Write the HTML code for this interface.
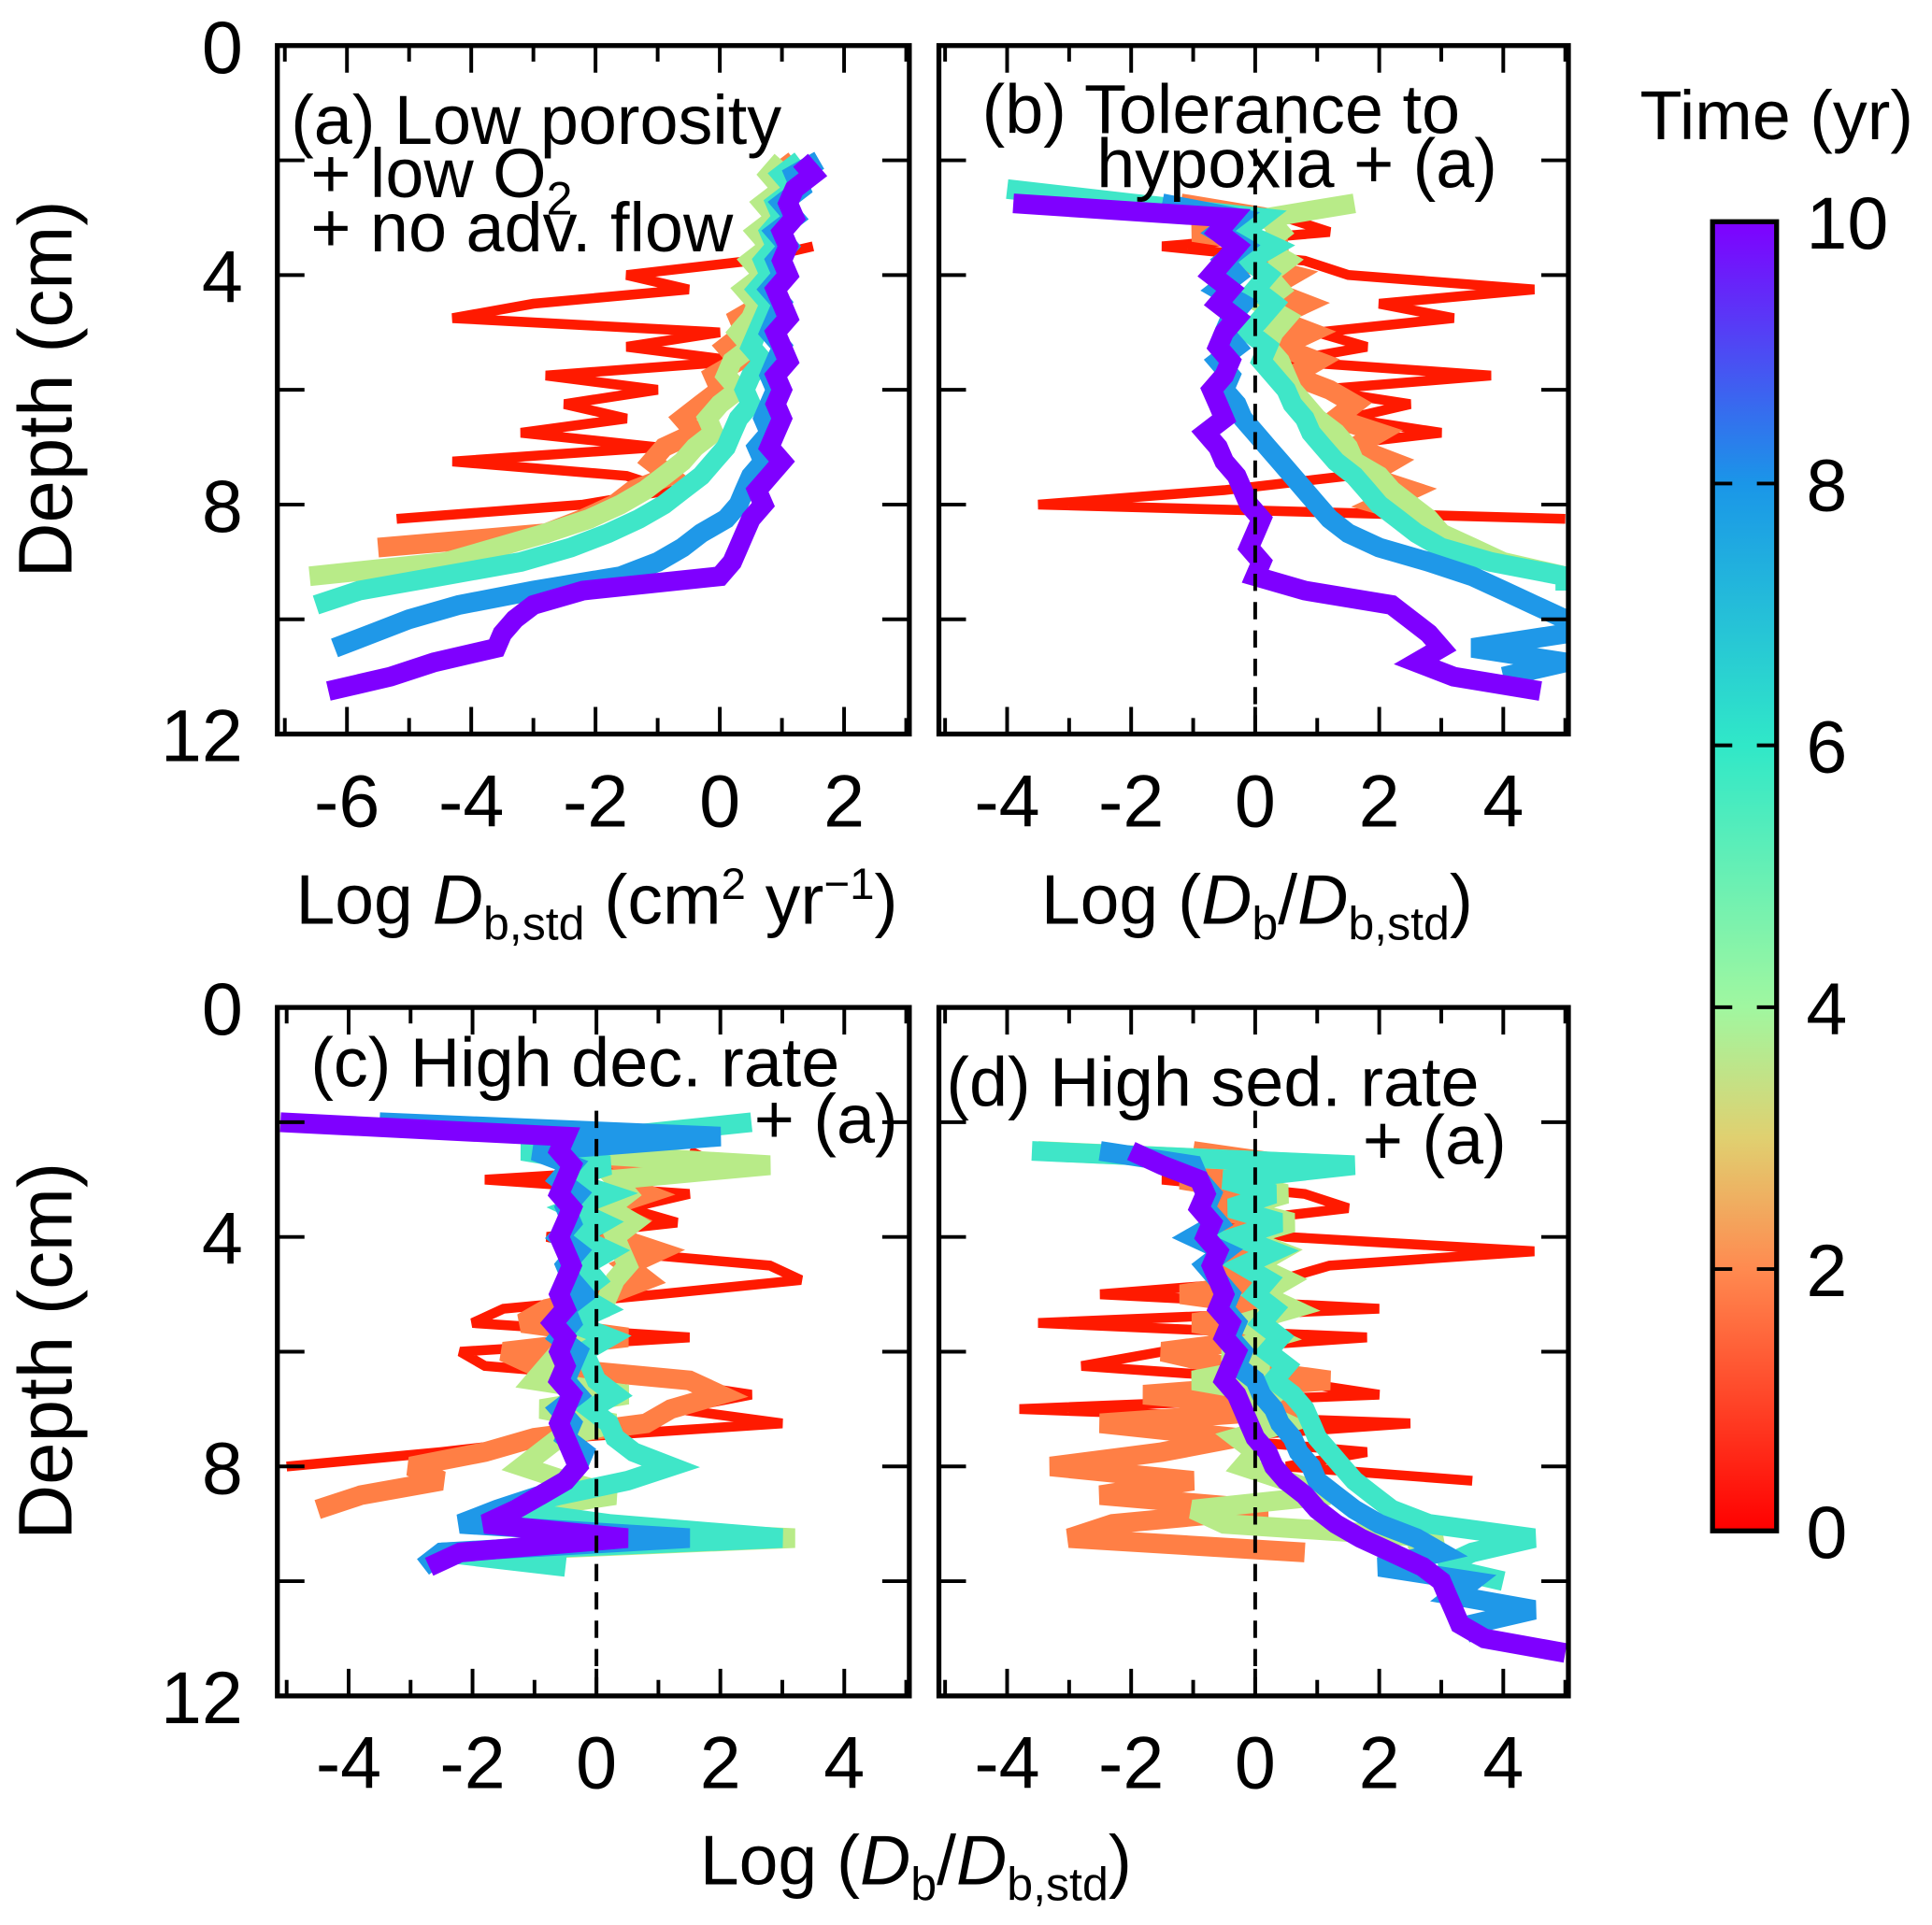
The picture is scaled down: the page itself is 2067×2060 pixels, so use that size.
<!DOCTYPE html>
<html><head><meta charset="utf-8"><style>
html,body{margin:0;padding:0;background:#fff}
svg{display:block}
text{font-family:"Liberation Sans",Arial,sans-serif;fill:#000}
</style></head><body>
<svg id="fig" width="2067" height="2060" viewBox="0 0 1568 1563" xmlns="http://www.w3.org/2000/svg">
<defs>
<linearGradient id="cbg" x1="0" y1="0" x2="0" y2="1">
<stop offset="0" stop-color="#7f00ff"/><stop offset="0.2" stop-color="#1a96e8"/><stop offset="0.4" stop-color="#30e8c8"/>
<stop offset="0.6" stop-color="#a0f7a0"/><stop offset="0.7" stop-color="#e0d070"/><stop offset="0.8" stop-color="#ff8a50"/><stop offset="1" stop-color="#ff0000"/>
</linearGradient>
</defs>
<g id="plots"></g>
<g>
<rect x="1390" y="180" width="52" height="1063" fill="url(#cbg)" stroke="#000" stroke-width="4"/>
<text x="1442" y="113" font-size="56" text-anchor="middle">Time (yr)</text>
</g>
<g id="cbticks"></g>
<g font-size="56">
<text x="236" y="117">(a) Low porosity</text>
<text x="252" y="160">+ low O<tspan font-size="38" dy="14">2</tspan></text>
<text x="252" y="204">+ no adv. flow</text>
<text x="797" y="108">(b) Tolerance to</text>
<text x="890" y="152">hypoxia + (a)</text>
<text x="252" y="882">(c) High dec. rate</text>
<text x="612" y="928">+ (a)</text>
<text x="768" y="898">(d) High sed. rate</text>
<text x="1106" y="945">+ (a)</text>
</g>
<g font-size="57">
<text transform="translate(58,316) rotate(-90)" text-anchor="middle" font-size="62">Depth (cm)</text>
<text transform="translate(58,1097) rotate(-90)" text-anchor="middle" font-size="62">Depth (cm)</text>
<text x="240" y="750">Log <tspan font-style="italic">D</tspan><tspan font-size="38" dy="13">b,std</tspan><tspan dy="-13"> (cm</tspan><tspan font-size="36" dy="-20">2</tspan><tspan dy="20"> yr</tspan><tspan font-size="36" dy="-20">−1</tspan><tspan dy="20">)</tspan></text>
<text x="845" y="750">Log (<tspan font-style="italic">D</tspan><tspan font-size="38" dy="13">b</tspan><tspan dy="-13">/</tspan><tspan font-style="italic">D</tspan><tspan font-size="38" dy="13">b,std</tspan><tspan dy="-13">)</tspan></text>
<text x="568" y="1530">Log (<tspan font-style="italic">D</tspan><tspan font-size="38" dy="13">b</tspan><tspan dy="-13">/</tspan><tspan font-style="italic">D</tspan><tspan font-size="38" dy="13">b,std</tspan><tspan dy="-13">)</tspan></text>
</g>
</svg>
<script>
const depths=[2.0,2.25,2.5,2.75,3.0,3.25,3.5,3.75,4.0,4.25,4.5,4.75,5.0,5.25,5.5,5.75,6.0,6.25,6.5,6.75,7.0,7.25,7.5,7.75,8.0,8.25,8.5,8.75,9.0,9.25,9.5,9.75,10.0,10.25,10.5,10.75,11.0,11.25];
const times=[0,2,4,6,8,10];
const colors=["#ff1a00","#ff7f45","#b8eb88","#3fe6c8","#1f98e8","#7f00ff"];
const N=null;
const seriesA=[
[N,N,N,N,N,N,1.5,0.5,-1.5,-0.5,-3.0,-4.3,0.0,-1.5,0.3,-2.8,-1.0,-2.5,-1.5,-3.2,-1.0,-4.3,-1.5,-0.8,-2.2,-5.2,N,N,N,N,N,N,N,N,N,N,N,N],
[1.2,0.9,1.1,0.8,1.0,0.7,0.9,0.6,0.8,0.5,0.7,0.3,0.4,0.1,0.3,-0.1,0.0,-0.3,-0.6,-0.4,-0.9,-1.1,-0.8,-1.4,-1.7,-2.2,-2.8,-5.5,N,N,N,N,N,N,N,N,N,N],
[1.0,0.8,1.0,0.7,0.9,0.6,0.8,0.5,0.7,0.4,0.6,0.5,0.3,0.5,0.2,0.1,0.3,0.0,-0.2,-0.1,-0.4,-0.6,-0.9,-1.2,-1.6,-2.1,-2.8,-3.6,-4.4,-6.6,N,N,N,N,N,N,N,N],
[1.3,1.0,1.2,0.9,1.0,0.8,0.9,0.7,0.8,0.6,0.8,0.7,0.6,0.5,0.7,0.5,0.4,0.5,0.3,0.2,0.1,-0.1,-0.3,-0.6,-0.9,-1.3,-1.8,-2.4,-3.2,-4.5,-5.8,-6.5,N,N,N,N,N,N],
[1.6,1.2,1.3,1.0,1.2,0.9,1.1,0.9,1.0,0.8,1.0,0.9,0.8,1.0,0.9,0.8,0.9,0.8,0.7,0.8,0.6,0.7,0.5,0.4,0.3,0.1,-0.3,-0.6,-1.0,-1.6,-3.0,-4.2,-5.0,-5.6,-6.2,N,N,N],
[1.3,1.5,1.2,1.1,1.2,1.0,1.1,1.0,1.1,0.9,1.0,1.1,0.9,1.0,1.1,0.9,1.0,0.9,1.0,0.9,0.8,1.0,0.8,0.6,0.7,0.5,0.4,0.3,0.2,0.0,-2.2,-3.0,-3.3,-3.5,-3.6,-4.6,-5.3,-6.3]];
const seriesB=[
[N,N,N,1.5,0.5,1.2,-1.5,0.8,1.5,4.5,2.0,3.2,1.0,1.8,0.5,3.8,1.0,2.5,1.5,3.0,1.0,2.0,1.5,-0.5,-3.5,5.0,N,N,N,N,N,N,N,N,N,N,N,N],
[N,N,N,-1.2,0.2,-1.0,0.5,-0.3,0.6,0.2,0.8,0.3,0.9,0.4,1.0,0.6,1.2,1.6,1.3,2.0,1.6,2.2,1.8,2.5,2.0,2.8,3.0,3.4,2.8,N,N,N,N,N,N,N,N,N],
[N,N,N,1.6,0.2,0.4,0.1,0.5,0.2,0.4,0.1,0.5,0.3,0.2,0.4,0.5,0.6,0.8,1.0,1.3,1.5,1.6,2.0,2.2,2.5,2.8,3.0,3.5,4.0,5.0,N,N,N,N,N,N,N,N],
[N,N,-4.0,-2.0,0.1,-0.2,0.3,-0.1,0.2,0.0,0.3,0.1,-0.1,0.2,0.1,0.3,0.5,0.6,0.8,0.9,1.1,1.3,1.6,1.8,2.0,2.3,2.6,3.0,3.8,5.0,5.0,N,N,N,N,N,N,N],
[N,N,N,-1.5,-0.3,-0.6,-0.2,-0.5,-0.3,-0.6,-0.2,-0.4,-0.5,-0.3,-0.6,-0.4,-0.5,-0.3,-0.2,0.0,0.2,0.4,0.6,0.8,1.0,1.2,1.5,2.0,2.8,3.5,4.0,4.5,5.0,5.0,3.5,5.0,4.0,N],
[N,N,N,-3.9,-0.4,-0.6,-0.3,-0.5,-0.7,-0.4,-0.6,-0.3,-0.5,-0.6,-0.4,-0.5,-0.7,-0.6,-0.5,-0.8,-0.6,-0.5,-0.3,-0.2,-0.1,0.1,0.0,-0.1,0.1,0.0,0.8,2.2,2.5,2.8,3.0,2.6,3.2,4.6]];
const seriesC=[
[N,N,1.5,2.0,-1.8,1.5,0.5,1.3,-0.8,0.2,2.8,3.3,1.0,-1.5,-2.0,1.5,-2.2,-1.8,1.0,2.5,1.3,3.0,-0.5,-2.5,-5.0,N,N,N,N,N,N,N,N,N,N,N,N,N],
[N,0.6,-0.8,1.2,0.2,0.8,0.1,0.6,0.3,1.0,0.5,0.8,0.2,-0.8,-1.2,0.5,-1.5,-1.0,1.5,2.0,1.2,0.8,-1.0,-1.8,-3.0,-2.5,-3.8,-4.5,N,N,N,N,N,N,N,N,N,N],
[N,0.8,-1.0,2.8,0.3,0.5,0.2,0.6,0.3,0.4,0.5,0.3,0.2,0.1,-0.5,-0.3,-0.6,-0.8,-1.0,0.5,-0.9,0.3,-0.6,-0.9,-1.2,-0.5,0.3,-1.2,-1.8,3.2,-2.2,N,N,N,N,N,N,N],
[2.5,0.3,-1.2,0.2,-0.5,0.2,-0.4,0.1,-0.3,0.2,-0.2,0.0,-0.3,0.1,-0.4,0.2,-0.2,-0.1,0.0,0.3,-0.1,0.2,0.3,0.6,1.2,0.5,-0.6,-1.5,0.2,3.0,-2.5,-0.5,N,N,N,N,N,N],
[-3.5,2.0,-1.0,-0.4,-0.6,-0.3,-0.5,-0.4,-0.6,-0.3,-0.5,-0.4,-0.2,-0.5,-0.4,-0.6,-0.3,-0.4,-0.5,-0.3,-0.6,-0.4,-0.5,-0.2,-0.3,-0.5,-0.9,-1.6,-2.2,1.5,-2.5,-2.8,N,N,N,N,N,N],
[-5.1,-0.5,-0.6,-0.4,-0.5,-0.6,-0.4,-0.5,-0.6,-0.5,-0.4,-0.5,-0.6,-0.5,-0.7,-0.5,-0.6,-0.5,-0.6,-0.4,-0.5,-0.6,-0.5,-0.4,-0.3,-0.5,-0.9,-1.3,-1.8,0.5,-2.2,-2.7,N,N,N,N,N,N]];
const seriesD=[
[N,N,N,1.2,-1.5,0.8,1.5,-0.5,0.5,4.5,1.2,0.4,-2.5,2.0,-3.5,1.8,-1.5,-2.8,0.5,2.0,-3.8,2.5,-0.8,1.8,0.5,3.5,N,N,N,N,N,N,N,N,N,N,N,N],
[N,N,-1.0,0.6,-1.2,0.2,-0.8,0.4,-0.5,0.3,-0.6,0.4,-1.2,0.5,-1.0,0.3,-1.5,-0.5,1.2,-1.8,0.8,-2.5,-0.3,-1.5,-3.3,-1.0,-2.5,0.2,-2.3,-3.0,0.8,N,N,N,N,N,N,N],
[N,N,-3.5,1.5,-0.5,0.5,-0.3,0.6,-0.2,0.4,0.0,0.5,0.1,0.6,-0.2,0.3,-0.5,0.2,-1.0,0.3,0.0,0.5,-0.3,0.0,-0.2,0.5,1.2,-1.0,-0.5,3.0,2.5,N,N,N,N,N,N,N],
[N,N,-3.6,1.6,-0.5,0.3,-0.4,0.4,-0.3,0.3,-0.2,0.2,0.0,0.3,0.1,0.4,0.2,0.5,0.3,0.6,0.8,0.9,1.0,1.2,1.4,1.6,1.9,2.2,2.8,4.5,3.5,3.0,4.0,N,N,N,N,N],
[N,N,-2.5,-1.0,-0.9,-0.7,-0.8,-0.6,-1.0,-0.5,-0.8,-0.6,-0.4,-0.5,-0.3,-0.4,-0.2,-0.3,0.0,0.1,0.3,0.4,0.6,0.7,0.9,1.0,1.3,1.6,2.0,2.6,3.0,2.0,3.5,3.2,4.5,3.5,3.6,N],
[N,N,-2.0,-1.5,-0.9,-0.8,-0.9,-0.7,-0.8,-0.6,-0.7,-0.6,-0.5,-0.6,-0.4,-0.5,-0.3,-0.4,-0.5,-0.3,-0.2,-0.1,0.0,0.2,0.3,0.5,0.8,1.0,1.3,1.7,2.2,2.7,3.0,3.1,3.2,3.3,3.7,5.0]];
const yTicks=[0,4,8,12];
const xTicksA=[-6,-4,-2,0,2];
const xTicksB=[-4,-2,0,2,4];
const cbTicks=[0,2,4,6,8,10];

const NS="http://www.w3.org/2000/svg";
const root=document.getElementById('plots');
function mk(tag,attrs,parent){const e=document.createElementNS(NS,tag);for(const k in attrs)e.setAttribute(k,attrs[k]);(parent||root).appendChild(e);return e;}
const panels=[
{id:'a',x0:225,x1:738,y0:37,y1:596,dom:[-7.12,3.05],ticks:xTicksA,data:seriesA,dash:false,ylab:true},
{id:'b',x0:762,x1:1273,y0:37,y1:596,dom:[-5.1,5.05],ticks:xTicksB,data:seriesB,dash:true,ylab:false},
{id:'c',x0:225,x1:738,y0:818,y1:1377,dom:[-5.15,5.05],ticks:xTicksB,data:seriesC,dash:true,ylab:true},
{id:'d',x0:762,x1:1273,y0:818,y1:1377,dom:[-5.1,5.05],ticks:xTicksB,data:seriesD,dash:true,ylab:false}];
panels.forEach(p=>{
  const g=mk('g',{});
  
  
  const sx=v=>p.x0+(v-p.dom[0])/(p.dom[1]-p.dom[0])*(p.x1-p.x0);
  const sy=d=>p.y0+d/12*(p.y1-p.y0);
  const clip=mk('clipPath',{id:'clip'+p.id},g);
  mk('rect',{x:p.x0,y:p.y0,width:p.x1-p.x0,height:p.y1-p.y0},clip);
  const lines=mk('g',{'clip-path':'url(#clip'+p.id+')'},g);
  p.data.forEach((ser,si)=>{
    let d='',pen=false;
    ser.forEach((v,i)=>{ if(v===null){pen=false;return;} d+=(pen?'L':'M')+sx(v).toFixed(1)+' '+sy(depths[i]).toFixed(1)+' '; pen=true;});
    const path=mk('path',{d:d,fill:'none',stroke:colors[si],'stroke-width':si===0?8:16,'stroke-linejoin':'miter','stroke-miterlimit':3},lines);
    
    
  });
  if(p.dash){const l=mk('line',{x1:sx(0),x2:sx(0),y1:sy(1.8),y2:p.y1,stroke:'#000','stroke-width':3,'stroke-dasharray':'14 9'},g);
    
    }
  const fr=mk('rect',{x:p.x0,y:p.y0,width:p.x1-p.x0,height:p.y1-p.y0,fill:'none',stroke:'#000','stroke-width':4},g);
  
  
  for(let v=Math.ceil(p.dom[0]);v<=p.dom[1];v++){
    const maj=p.ticks.includes(v);const L=maj?22:13;const x=sx(v);
    mk('line',{x1:x,x2:x,y1:p.y1,y2:p.y1-L,stroke:'#000','stroke-width':3},g);
    mk('line',{x1:x,x2:x,y1:p.y0,y2:p.y0+L,stroke:'#000','stroke-width':3},g);
  }
  p.ticks.forEach(v=>{const t=mk('text',{x:sx(v),y:p.y1+75,'font-size':60,'text-anchor':'middle'},g);t.textContent=(v<0?'-':'')+Math.abs(v);
    
    });
  for(let dv=0;dv<=12;dv+=2){const y=sy(dv);
    mk('line',{x1:p.x0,x2:p.x0+22,y1:y,y2:y,stroke:'#000','stroke-width':3},g);
    mk('line',{x1:p.x1,x2:p.x1-22,y1:y,y2:y,stroke:'#000','stroke-width':3},g);}
  if(p.ylab){yTicks.forEach(v=>{const t=mk('text',{x:197,y:sy(v)+22,'font-size':60,'text-anchor':'end'},g);t.textContent=v;
    
    });}
});
const cb=document.getElementById('cbticks');
cbTicks.forEach(v=>{const y=1243-v/10*(1243-180);
  if(v>0&&v<10){mk('line',{x1:1390,x2:1406,y1:y,y2:y,stroke:'#000','stroke-width':3},cb);mk('line',{x1:1442,x2:1426,y1:y,y2:y,stroke:'#000','stroke-width':3},cb);}
  const t=mk('text',{x:1466,y:y+22,'font-size':60},cb);t.textContent=v;
  
  });
</script>
</body></html>
